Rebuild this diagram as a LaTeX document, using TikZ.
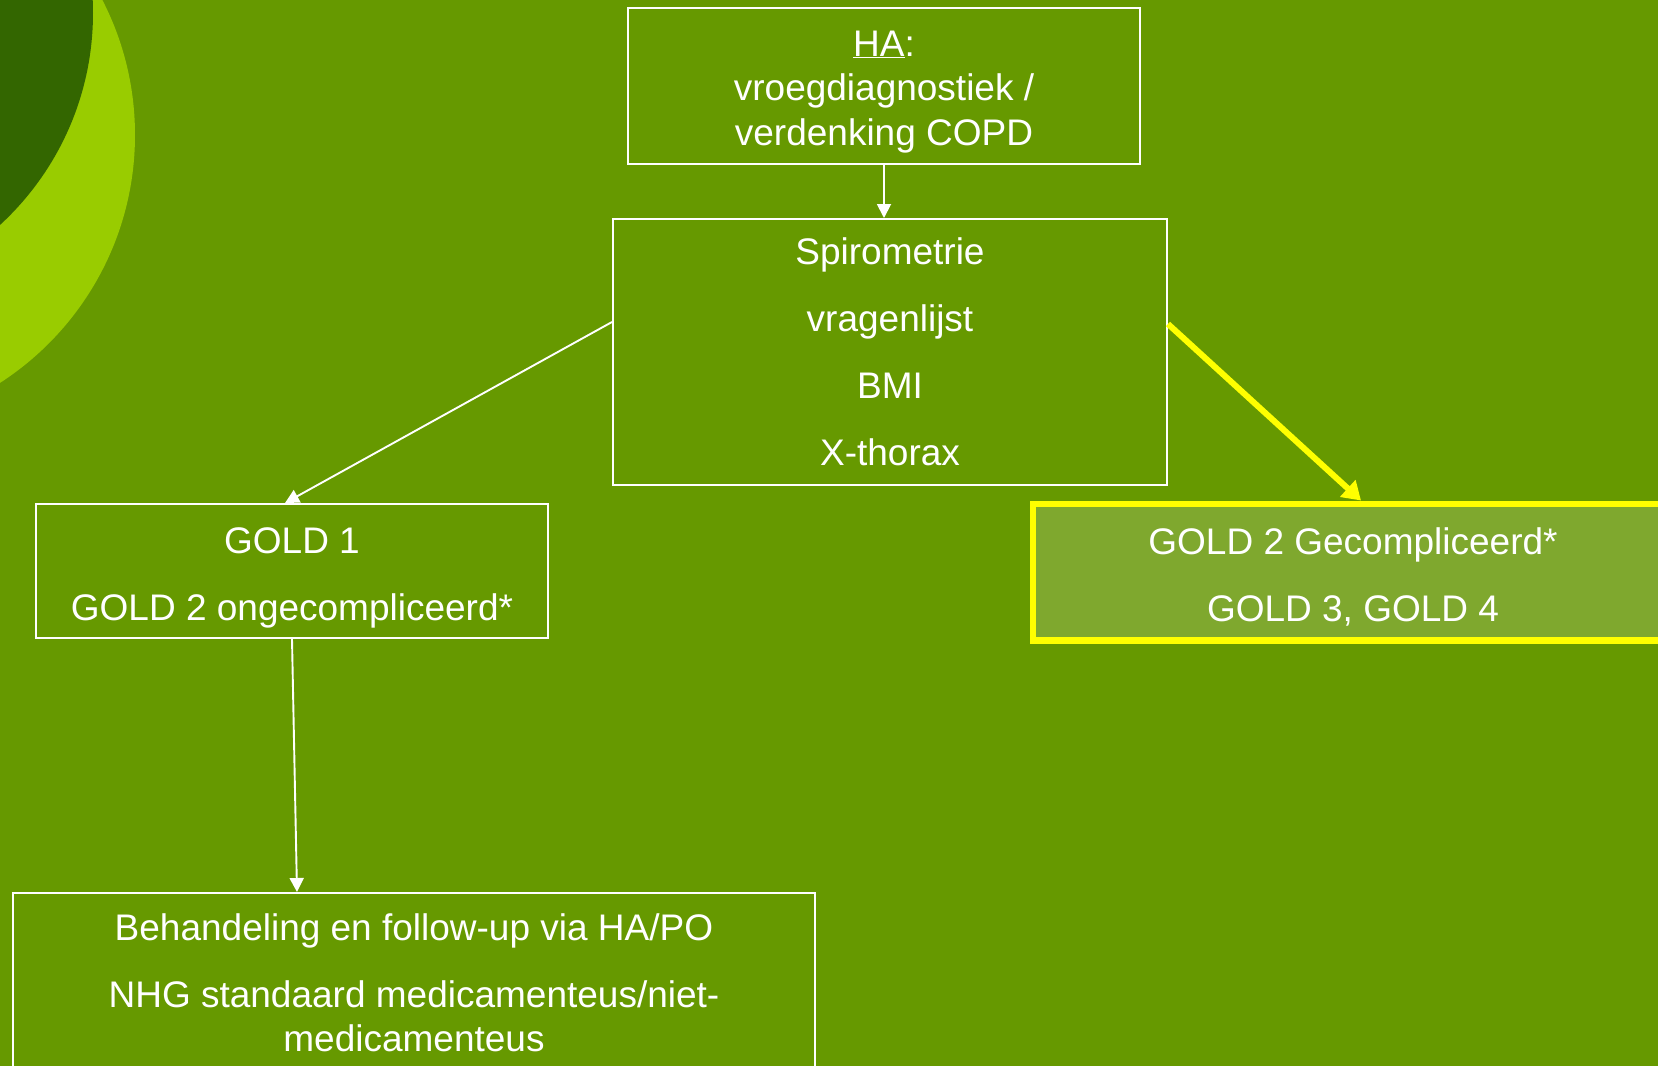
\documentclass[tikz,border=0pt]{standalone}
\usepackage{fontspec}
\setmainfont{Liberation Sans}
\usetikzlibrary{arrows.meta,calc}
\definecolor{bg}{HTML}{669900}
\definecolor{lightc}{HTML}{99CC00}
\definecolor{darkc}{HTML}{336600}
\definecolor{ybox}{HTML}{7FA82E}
\definecolor{yel}{HTML}{FFFF00}
\begin{document}
\begin{tikzpicture}[x=1pt,y=-1pt,
  box/.style={draw=white, line width=2pt, text=white, align=center, inner sep=0pt,
    font=\fontsize{37}{44.5}\selectfont},
  conn/.style={draw=white, line width=1.9pt, -{Triangle[width=14pt,length=14pt]}},
  hot/.style={draw=yel, line width=6pt, -{Triangle[width=22pt,length=18pt]}}]
\useasboundingbox (0,0) rectangle (1658,1066);
\clip (0,0) rectangle (1658,1066);
\fill[bg] (0,0) rectangle (1658,1066);
\fill[lightc] (-160,135) circle[radius=295pt];
\fill[darkc] (-195,13) circle[radius=288pt];

\node[box, minimum width=512pt, minimum height=155.5pt] (ha) at (884,86)
  {\rule{0pt}{37pt}\underline{HA}:\\vroegdiagnostiek /\\verdenking COPD};
\node[box, minimum width=554pt, minimum height=266pt] (spiro) at (890,352)
  {Spirometrie\\[22.5pt]vragenlijst\\[22.5pt]BMI\\[22.5pt]X-thorax};
\node[box, minimum width=512pt, minimum height=134pt] (gold1) at (292,571)
  {\rule{0pt}{40pt}GOLD 1\\[23pt]GOLD 2 ongecompliceerd*};
\node[box, draw=yel, line width=6.5pt, fill=ybox, minimum width=640pt, minimum height=136.5pt] (gold2) at (1353,572)
  {\rule{0pt}{36pt}GOLD 2 Gecompliceerd*\\[22.5pt]GOLD 3, GOLD 4};
\node[box, minimum width=802pt, minimum height=180pt] (treat) at (414,983)
  {Behandeling en follow-up via HA/PO\\[22.5pt]NHG standaard medicamenteus/niet-\\medicamenteus};

\draw[conn] (ha.south) -- (ha.south |- spiro.north);
\draw[conn] ([yshift=30pt]spiro.west) -- ([xshift=-7pt]gold1.north);
\draw[conn] (gold1.south) -- ([xshift=-117pt]treat.north);
\draw[hot] ([yshift=28pt]spiro.east) -- ([xshift=8pt]gold2.north);
\end{tikzpicture}
\end{document}
